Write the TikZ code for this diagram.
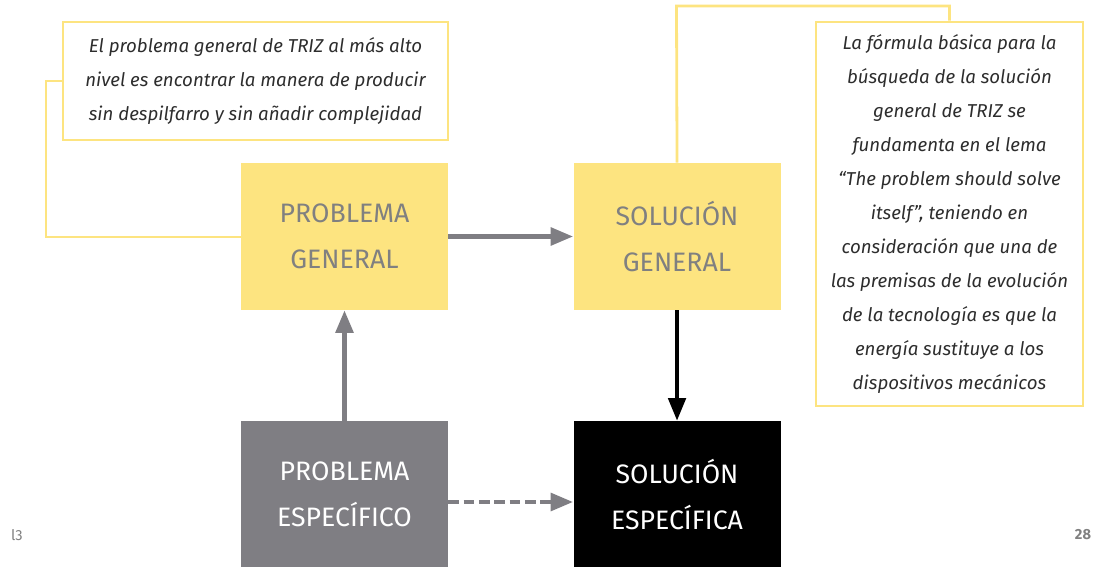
\documentclass[tikz,border=0pt]{standalone}
\usepackage{fontspec}
\setmainfont{Fira Sans}
\usepackage{tikz}
\usetikzlibrary{arrows.meta,positioning}
\definecolor{trizyellow}{RGB}{253,228,128}
\definecolor{trizgray}{RGB}{127,126,131}
\definecolor{labelgray}{RGB}{128,128,128}
\definecolor{notetext}{RGB}{45,45,45}

\begin{document}
\begin{tikzpicture} %
		[
			x=0.75pt, y=-0.75pt,
			every text node part/.style={align=center},
			block/.style={
				anchor=center,
				rectangle,
				minimum width=155.25pt,
				minimum height=110.25pt,
				inner sep=0pt,
				font={\fontsize{20}{34.5}\selectfont},
				node distance=93.75pt,
			},
			general/.style={block, fill=trizyellow, text=labelgray},
			note/.style={
				draw=trizyellow,
				line width=2.1pt,
				inner sep=0pt,
				font={\fontsize{14}{25.5}\selectfont\itshape},
				text=notetext,
			},
			link/.style={draw=trizyellow, line width=2.1pt},
			arch/.style={-{Triangle[length=17pt,width=13pt]}, line width=3.6pt},
			pagenum/.style={font={\fontsize{11}{11}\selectfont}, text=labelgray},
		]
		\useasboundingbox (0,0) rectangle (1096,567);
		
		\node[general] (pg) at (344.5,236.5) {PROBLEMA\\GENERAL};
		\node[general, right =of pg] (sg) {SOLUCIÓN\\GENERAL};
		\node[block, fill=trizgray, text=white] (pe) at (344.5,494.5) {PROBLEMA\\ESPECÍFICO};
		\node[block, fill=black, text=white, right =of pe] (se) {SOLUCIÓN\\ESPECÍFICA};
		
		\node[note, minimum width=288.75pt, minimum height=88.5pt] (n1) at (255.5,81)
		{El problema general de TRIZ al más alto\\nivel es encontrar la manera de producir\\sin despilfarro y sin añadir complejidad};
		\node[note, minimum width=200.25pt, minimum height=288pt] (n2) at (949.5,214)
		{La fórmula básica para la\\búsqueda de la solución\\general de TRIZ se\\fundamenta en el lema\\“The problem should solve\\itself”, teniendo en\\consideración que una de\\las premisas de la evolución\\de la tecnología es que la\\energía sustituye a los\\dispositivos mecánicos};
		
		% notes hooked to the yellow blocks
		\coordinate (k1) at (46,81);
		\coordinate (k2) at (46,237);
		\draw[link] (n1.west) -- (n1.west -| k1) -- (k2) -- (k2 -| pg.west);
		\coordinate (k3) at (676.5,6);
		\draw[link] (sg.north) -- (k3) -- (k3 -| n2.north) -- (n2.north);
		
		\draw[arch, trizgray] (pg) -- (sg);
		\draw[arch, trizgray] (pe) -- (pg);
		\draw[arch, black, line width=3pt] (sg) -- (se);
		\draw[arch, trizgray, dash pattern=on 8pt off 3.5pt] (pe.east |- 0,502) -- (se.west |- 0,502);
		
		\node[pagenum] (pl) at (17,535) {l3};
		\node[pagenum, font={\fontsize{11}{11}\selectfont\bfseries}] (pr) at (1083,535) {28};
	\end{tikzpicture}
\end{document}
